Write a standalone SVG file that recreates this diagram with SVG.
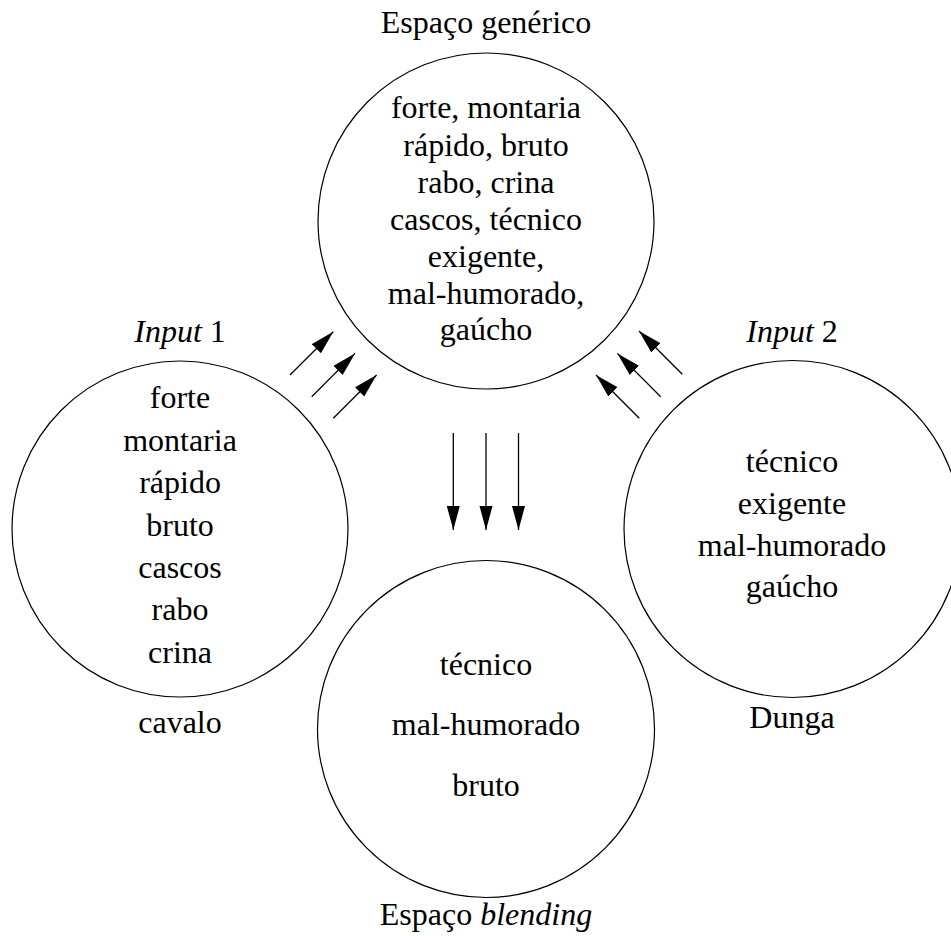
<svg xmlns="http://www.w3.org/2000/svg" width="951" height="936" viewBox="0 0 951 936">
<style>
  .c { fill: none; stroke: #000; stroke-width: 1.2; }
  .t { font-family: "Liberation Serif", "Times New Roman", serif; font-size: 32px; fill: #000; text-anchor: middle; }
  .a { stroke: #000; stroke-width: 1.3; fill: none; marker-end: url(#ah); }
</style>
<defs>
  <marker id="ah" markerUnits="userSpaceOnUse" markerWidth="26" markerHeight="14" refX="24" refY="6.5" orient="auto">
    <path d="M0,0 L24,6.5 L0,13 z" fill="#000"/>
  </marker>
</defs>
<rect width="951" height="936" fill="#fff"/>

<g id="generic">
  <text class="t" x="486" y="33">Espaço genérico</text>
  <circle class="c" cx="486" cy="221" r="168"/>
  <text class="t" x="486" y="118">forte, montaria</text>
  <text class="t" x="486" y="156">rápido, bruto</text>
  <text class="t" x="486" y="193">rabo, crina</text>
  <text class="t" x="486" y="230">cascos, técnico</text>
  <text class="t" x="486" y="267">exigente,</text>
  <text class="t" x="486" y="304">mal-humorado,</text>
  <text class="t" x="486" y="340">gaúcho</text>
</g>

<g id="input1">
  <text class="t" x="180" y="342"><tspan font-style="italic">Input</tspan> 1</text>
  <circle class="c" cx="180" cy="529" r="168"/>
  <text class="t" x="180" y="408">forte</text>
  <text class="t" x="180" y="451">montaria</text>
  <text class="t" x="180" y="493">rápido</text>
  <text class="t" x="180" y="536">bruto</text>
  <text class="t" x="180" y="578">cascos</text>
  <text class="t" x="180" y="620">rabo</text>
  <text class="t" x="180" y="663">crina</text>
  <text class="t" x="180" y="733">cavalo</text>
</g>

<g id="input2">
  <text class="t" x="792" y="342"><tspan font-style="italic">Input</tspan> 2</text>
  <circle class="c" cx="792.5" cy="529" r="168.5"/>
  <text class="t" x="792" y="472">técnico</text>
  <text class="t" x="792" y="514">exigente</text>
  <text class="t" x="792" y="556">mal-humorado</text>
  <text class="t" x="792" y="597">gaúcho</text>
  <text class="t" x="792" y="728">Dunga</text>
</g>

<g id="blend">
  <circle class="c" cx="486" cy="729" r="168.5"/>
  <text class="t" x="486" y="675">técnico</text>
  <text class="t" x="486" y="735">mal-humorado</text>
  <text class="t" x="486" y="796">bruto</text>
  <text class="t" x="486" y="925">Espaço <tspan font-style="italic">blending</tspan></text>
</g>

<g id="connectors">
  <line class="a" x1="290" y1="375" x2="333.3" y2="331.7"/>
  <line class="a" x1="311.7" y1="396.7" x2="355" y2="353.4"/>
  <line class="a" x1="333.3" y1="418.3" x2="376.6" y2="375"/>
  <line class="a" x1="682.3" y1="374.3" x2="639" y2="331"/>
  <line class="a" x1="660.7" y1="396.7" x2="617.4" y2="353.4"/>
  <line class="a" x1="639.3" y1="418.3" x2="596" y2="375"/>
  <line class="a" x1="453.3" y1="433" x2="453.3" y2="530"/>
  <line class="a" x1="486" y1="433" x2="486" y2="530"/>
  <line class="a" x1="518.5" y1="433" x2="518.5" y2="530"/>
</g>
</svg>
